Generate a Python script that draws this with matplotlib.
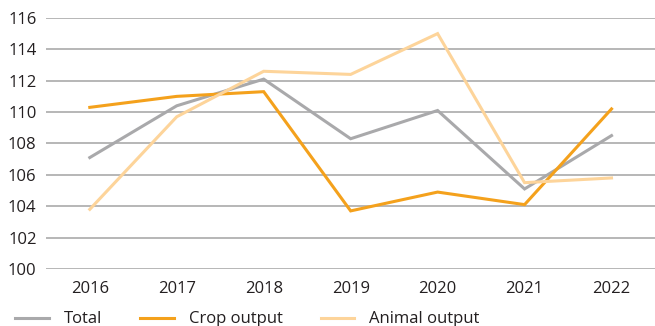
import matplotlib
matplotlib.use("Agg")
import matplotlib.pyplot as plt
from matplotlib.lines import Line2D

years = ["2016", "2017", "2018", "2019", "2020", "2021", "2022"]
total = [107.1, 110.4, 112.1, 108.3, 110.1, 105.1, 108.5]
crop_output = [110.3, 111.0, 111.3, 103.7, 104.9, 104.1, 110.2]
animal_output = [103.8, 109.7, 112.6, 112.4, 115.0, 105.5, 105.8]
y_ticks = [100, 102, 104, 106, 108, 110, 112, 114, 116]

plt.rcParams['font.family'] = ['Open Sans', 'DejaVu Sans']

fig = plt.figure(figsize=(6.55, 3.26), dpi=100)
ax = fig.add_axes([0.0707, 0.175, 0.9293, 0.77])

x = list(range(len(years)))
c_total = "#a9a9ab"
c_crop = "#f4a11c"
c_animal = "#fdd49a"

ax.plot(x, total, color=c_total, lw=2.2, solid_joinstyle="miter", label="Total")
ax.plot(x, crop_output, color=c_crop, lw=2.2, solid_joinstyle="miter", label="Crop output")
ax.plot(x, animal_output, color=c_animal, lw=2.2, solid_joinstyle="miter", label="Animal output")

ax.set_xlim(-0.5, len(years) - 0.5)
ax.set_ylim(100, 116)
ax.set_yticks(y_ticks)
ax.set_xticks(x)
ax.set_xticklabels(years)
ax.yaxis.grid(True, color="#a3a3a3", lw=1.1)
ax.set_axisbelow(True)
for s in ax.spines.values():
    s.set_visible(False)
ax.tick_params(length=0, labelsize=12, colors="#231f20")
ax.tick_params(axis="x", pad=9)
ax.tick_params(axis="y", pad=7)

handles = [Line2D([], [], color=c, lw=2.2) for c in (c_total, c_crop, c_animal)]
fig.legend(handles, ["Total", "Crop output", "Animal output"],
           loc="center left", bbox_to_anchor=(0.013, 0.02), borderaxespad=0,
           ncol=3, frameon=False,
           fontsize=12, handlelength=2.0, handletextpad=0.9, columnspacing=2.3,
           labelcolor="#231f20")

fig.savefig("out.png", dpi=100)
